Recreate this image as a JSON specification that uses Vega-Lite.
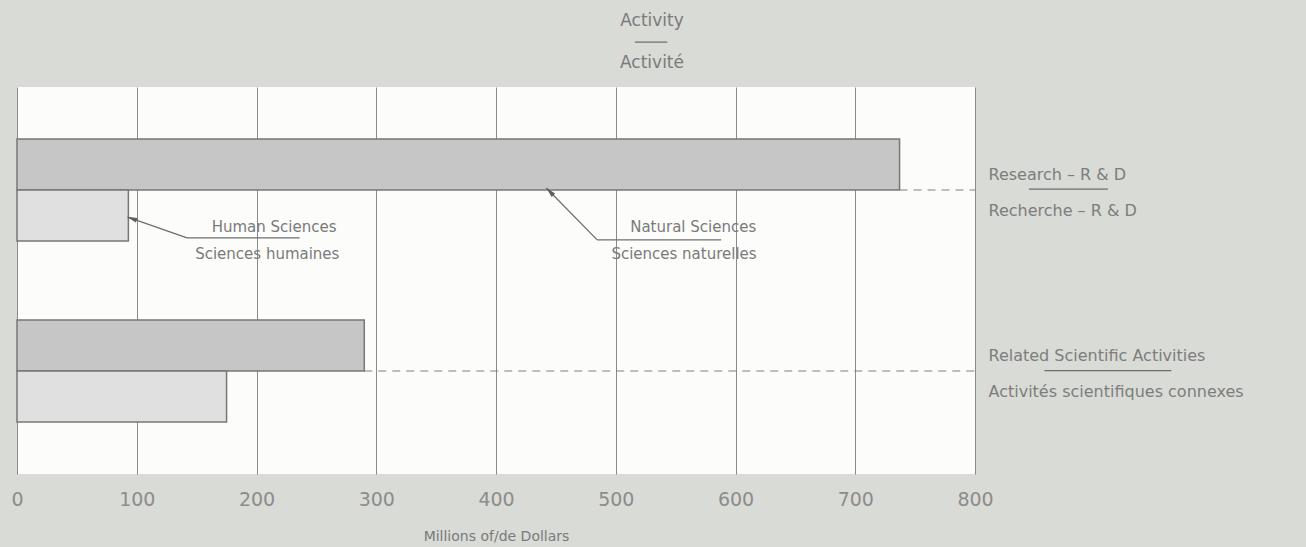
{
  "$schema": "https://vega.github.io/schema/vega-lite/v6.json",
  "width": 958,
  "height": 387,
  "autosize": {"type": "none"},
  "padding": {"left": 17, "top": 87, "right": 331, "bottom": 73},
  "background": "#d9dbd6",
  "config": {"view": {"stroke": null, "fill": "#fcfcfa"}, "font": "DejaVu Sans"},
  "title": {
    "text": ["Activity", "Activité"],
    "fontSize": 17,
    "fontWeight": "normal",
    "color": "#7a7a7a",
    "lineHeight": 42,
    "anchor": "middle",
    "dx": 156,
    "offset": -31
  },
  "datasets": {
    "bars": [
      {"activity": "RD", "science": "Natural Sciences", "value": 737},
      {"activity": "RD", "science": "Human Sciences", "value": 93},
      {"activity": "RSA", "science": "Natural Sciences", "value": 290},
      {"activity": "RSA", "science": "Human Sciences", "value": 175}
    ],
    "leaders": [
      {"part": "human arrow", "x": 92.5, "y": 33.6, "x2": 142, "y2": 39.0},
      {"part": "human underline", "x": 142, "y": 39.0, "x2": 236, "y2": 39.0},
      {"part": "natural arrow", "x": 442, "y": 26.1, "x2": 484.5, "y2": 39.5},
      {"part": "natural underline", "x": 484.5, "y": 39.5, "x2": 588, "y2": 39.5},
      {"part": "title bar", "x": 516, "y": -11.6, "x2": 543, "y2": -11.6},
      {"part": "rd bar", "x": 845, "y": 26.4, "x2": 911, "y2": 26.4},
      {"part": "rsa bar", "x": 858, "y": 73.3, "x2": 964, "y2": 73.3}
    ],
    "heads": [
      {"science": "Human Sciences", "x": 95.8, "y": 34.0},
      {"science": "Natural Sciences", "x": 444.9, "y": 27.0}
    ],
    "notes": [
      {"label": "Human Sciences", "x": 214.7, "y": 36.2},
      {"label": "Sciences humaines", "x": 209, "y": 43.2},
      {"label": "Natural Sciences", "x": 564.7, "y": 36.2},
      {"label": "Sciences naturelles", "x": 557, "y": 43.2}
    ]
  },
  "layer": [
    {
      "layer": [
        {
          "data": {"name": "bars"},
          "mark": {"type": "bar", "stroke": "#777777", "strokeWidth": 1.5},
          "encoding": {
            "y": {
              "field": "activity",
              "type": "nominal",
              "sort": ["RD", "RSA"],
              "scale": {"domain": ["RD", "RSA"], "paddingInner": 0.436, "paddingOuter": 0.287},
              "axis": {
                "orient": "right",
                "title": null,
                "domain": false,
                "ticks": false,
                "grid": false,
                "labelExpr": "datum.value === 'RD' ? ['Research – R & D', 'Recherche – R & D'] : ['Related Scientific Activities', 'Activités scientifiques connexes']",
                "labelFontSize": 16,
                "labelColor": "#7d7d7d",
                "labelPadding": 13,
                "labelLineHeight": 36,
                "labelAlign": "left",
                "labelBaseline": "middle",
                "labelOffset": -15,
                "labelLimit": 400
              }
            },
            "yOffset": {
              "field": "science",
              "type": "nominal",
              "scale": {"domain": ["Natural Sciences", "Human Sciences"], "paddingInner": 0, "paddingOuter": 0}
            },
            "x": {
              "field": "value",
              "type": "quantitative",
              "scale": {"domain": [0, 800], "nice": false},
              "axis": {
                "values": [0, 100, 200, 300, 400, 500, 600, 700, 800],
                "grid": true,
                "gridColor": "#8a8a8a",
                "gridWidth": 1,
                "domain": false,
                "ticks": false,
                "labelFlush": false,
                "labelFontSize": 19,
                "labelColor": "#8c8c8c",
                "labelPadding": 16,
                "title": "Millions of/de Dollars",
                "titleFontSize": 14,
                "titleFontWeight": "normal",
                "titleColor": "#7a7a7a",
                "titlePadding": 20
              }
            },
            "fill": {
              "field": "science",
              "type": "nominal",
              "scale": {"domain": ["Natural Sciences", "Human Sciences"], "range": ["#c6c6c6", "#e0e0e0"]},
              "legend": null
            }
          }
        },
        {
          "data": {"name": "bars"},
          "transform": [{"filter": "datum.science === 'Natural Sciences'"}],
          "mark": {"type": "rule", "strokeDash": [8, 6], "color": "#808080", "strokeWidth": 1},
          "encoding": {
            "y": {"field": "activity", "type": "nominal"},
            "x": {"field": "value", "type": "quantitative"},
            "x2": {"datum": 800}
          }
        }
      ]
    },
    {
      "layer": [
        {
          "data": {"name": "leaders"},
          "mark": {"type": "rule", "color": "#6e6e6e", "strokeWidth": 1.3},
          "encoding": {
            "x": {"field": "x", "type": "quantitative", "scale": {"domain": [0, 800], "nice": false}},
            "x2": {"field": "x2"},
            "y": {"field": "y", "type": "quantitative", "scale": {"domain": [0, 100], "nice": false, "zero": false, "reverse": true}, "axis": null},
            "y2": {"field": "y2"}
          }
        },
        {
          "data": {"name": "heads"},
          "transform": [{"filter": "datum.science === 'Human Sciences'"}],
          "mark": {"type": "point", "shape": "M0,-1L0.45,1L-0.45,1Z", "filled": true, "color": "#5e5e5e", "size": 110, "angle": 289.3, "opacity": 1},
          "encoding": {
            "x": {"field": "x", "type": "quantitative"},
            "y": {"field": "y", "type": "quantitative"}
          }
        },
        {
          "data": {"name": "heads"},
          "transform": [{"filter": "datum.science === 'Natural Sciences'"}],
          "mark": {"type": "point", "shape": "M0,-1L0.45,1L-0.45,1Z", "filled": true, "color": "#5e5e5e", "size": 110, "angle": 315.6, "opacity": 1},
          "encoding": {
            "x": {"field": "x", "type": "quantitative"},
            "y": {"field": "y", "type": "quantitative"}
          }
        },
        {
          "data": {"name": "notes"},
          "mark": {"type": "text", "fontSize": 15, "color": "#7a7a7a", "align": "center", "baseline": "middle"},
          "encoding": {
            "x": {"field": "x", "type": "quantitative"},
            "y": {"field": "y", "type": "quantitative"},
            "text": {"field": "label"}
          }
        }
      ]
    }
  ],
  "resolve": {"scale": {"y": "independent"}, "axis": {"y": "independent"}}
}
